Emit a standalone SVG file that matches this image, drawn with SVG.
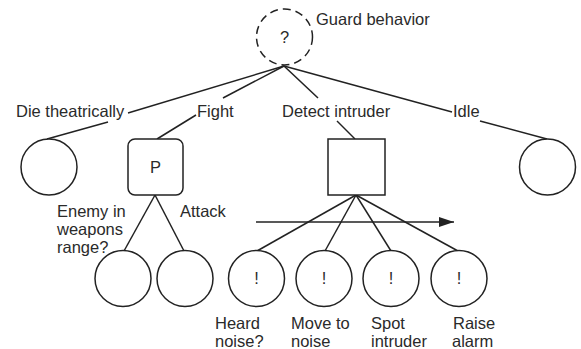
<svg xmlns="http://www.w3.org/2000/svg" width="581" height="349" viewBox="0 0 581 349">
<defs>
<style>
.t{font-family:"Liberation Sans",Arial,sans-serif;font-size:16.5px;fill:#2a2a2a}
.m{text-anchor:middle}
.n{fill:#fff;stroke:#222;stroke-width:1.5}
.c line{stroke:#222;stroke-width:1.5}
</style>
<marker id="ah" viewBox="0 0 15 10" refX="15" refY="5" markerWidth="15" markerHeight="10" markerUnits="userSpaceOnUse" orient="auto"><path d="M0,0L15,5L0,10z" fill="#222"/></marker>
</defs>
<rect width="581" height="349" fill="#fff"/>
<g class="c">
<line x1="284" y1="66" x2="128" y2="113"/>
<line x1="108" y1="122" x2="47" y2="139"/>
<line x1="284" y1="66" x2="223" y2="98"/>
<line x1="196" y1="115" x2="157" y2="139"/>
<line x1="284" y1="66" x2="318" y2="98"/>
<line x1="337" y1="121" x2="355" y2="139"/>
<line x1="284" y1="66" x2="452" y2="112"/>
<line x1="480" y1="121" x2="547" y2="139"/>
<line x1="155" y1="195" x2="124" y2="251"/>
<line x1="155" y1="195" x2="184" y2="251"/>
<line x1="356" y1="195" x2="257" y2="251"/>
<line x1="356" y1="195" x2="325" y2="251"/>
<line x1="356" y1="195" x2="391" y2="251"/>
<line x1="356" y1="195" x2="458" y2="251"/>
<line x1="256" y1="222" x2="454" y2="222" marker-end="url(#ah)"/>
</g>
<g id="root"><circle class="n" cx="284.5" cy="37" r="28" stroke-dasharray="8,5"/><text class="t m" x="284.5" y="43">?</text><text class="t" x="316" y="25">Guard behavior</text></g>
<g id="die"><circle class="n" cx="49" cy="167" r="28"/><text class="t" x="16" y="117">Die theatrically</text></g>
<g id="fight"><rect class="n" x="128" y="139" width="55" height="56" rx="7"/><text class="t m" x="155.5" y="173">P</text><text class="t" x="197" y="117">Fight</text></g>
<g id="detect"><rect class="n" x="328" y="139" width="57" height="56"/><text class="t" x="282" y="117">Detect intruder</text></g>
<g id="idle"><circle class="n" cx="547.5" cy="167" r="28"/><text class="t" x="453" y="117">Idle</text></g>
<g id="enemy"><circle class="n" cx="123" cy="278.5" r="28"/><text class="t" x="57" y="217">Enemy in</text><text class="t" x="57" y="235">weapons</text><text class="t" x="57" y="253">range?</text></g>
<g id="attack"><circle class="n" cx="185" cy="278.5" r="28"/><text class="t" x="180" y="217">Attack</text></g>
<g id="heard"><circle class="n" cx="256.5" cy="278.5" r="28"/><text class="t m" x="256.5" y="284">!</text><text class="t" x="215" y="329">Heard</text><text class="t" x="215" y="347">noise?</text></g>
<g id="move"><circle class="n" cx="324" cy="278.5" r="28"/><text class="t m" x="324" y="284">!</text><text class="t" x="291" y="329">Move to</text><text class="t" x="291" y="347">noise</text></g>
<g id="spot"><circle class="n" cx="391" cy="278.5" r="28"/><text class="t m" x="391" y="284">!</text><text class="t" x="371" y="329">Spot</text><text class="t" x="371" y="347">intruder</text></g>
<g id="raise"><circle class="n" cx="459" cy="278.5" r="28"/><text class="t m" x="459" y="284">!</text><text class="t" x="453" y="329">Raise</text><text class="t" x="452" y="347">alarm</text></g>
</svg>
